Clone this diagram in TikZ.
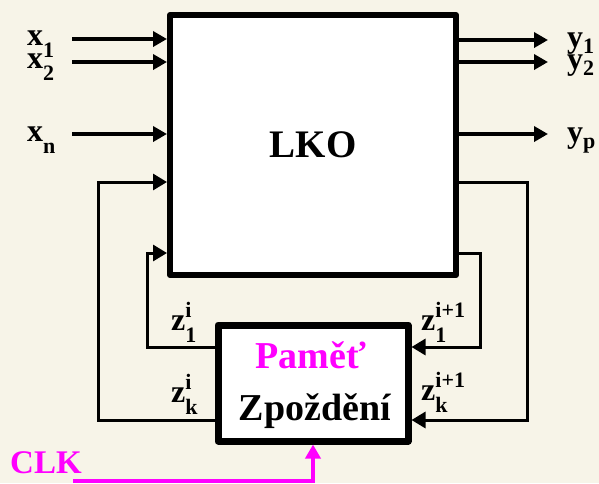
\documentclass[tikz,border=0pt]{standalone}
\usepackage{fontspec}
\setmainfont{Liberation Serif}
\usetikzlibrary{arrows.meta}

\definecolor{pozadi}{HTML}{F7F4E8}
\definecolor{fialova}{HTML}{FF00FF}

\newcommand{\idxfont}{\fontsize{22}{22}\selectfont}
\newcommand{\lbl}[3][12pt]{#2\raisebox{-#1}{\idxfont #3}}
\newcommand{\zsig}[2]{z\rlap{\raisebox{13pt}{\idxfont #2}}\raisebox{-12pt}{\idxfont #1}}

\tikzset{
  blok/.style={draw, line width=6pt, line join=round, fill=white, inner sep=0pt},
  sig/.style={line width=3.5pt, -{Triangle[length=14pt,width=15pt]}},
  zpet/.style={line width=3pt, -{Triangle[length=14pt,width=16pt]}},
  lab/.style={anchor=base west, inner sep=0pt, font=\bfseries\fontsize{32}{32}\selectfont},
  nadpis/.style={anchor=base, inner sep=0pt, font=\bfseries\fontsize{38}{38}\selectfont},
}

\begin{document}
\begin{tikzpicture}[x=1pt,y=-1pt]
  \fill[pozadi] (0,0) rectangle (599,483);

  % kombinacni cast a pamet
  \node[blok, minimum width=286pt, minimum height=260pt] (lko) at (313,145)
    {\bfseries\fontsize{39}{39}\selectfont LKO};
  \node[blok, line width=7pt, minimum width=190pt, minimum height=116pt] (mem) at (313,383) {};
  \node[nadpis, text=fialova] (pam) at (311,368) {Paměť};
  \node[nadpis] (zpo) at (315,420) {Zpoždění};

  % vstupy
  \coordinate (x1in) at (72,39);
  \coordinate (x2in) at (72,62);
  \coordinate (xnin) at (72,134);
  \draw[sig] (x1in) -- (x1in -| lko.west);
  \draw[sig] (x2in) -- (x2in -| lko.west);
  \draw[sig] (xnin) -- (xnin -| lko.west);
  \node[lab] (x1) at (27,45) {\lbl{x}{1}};
  \node[lab] (x2) at (27,68) {\lbl{x}{2}};
  \node[lab] (xn) at (27,141) {\lbl{x}{n}};

  % vystupy
  \coordinate (y1out) at (548,40);
  \coordinate (y2out) at (548,62);
  \coordinate (ypout) at (548,134);
  \draw[sig] (y1out -| lko.east) -- (y1out);
  \draw[sig] (y2out -| lko.east) -- (y2out);
  \draw[sig] (ypout -| lko.east) -- (ypout);
  \node[lab] (y1) at (567,47) {\lbl[6pt]{y}{1}};
  \node[lab] (y2) at (567,69) {\lbl[6pt]{y}{2}};
  \node[lab] (yp) at (567,142) {\lbl[6pt]{y}{p}};

  % zpetne vazby
  \coordinate (r1) at (480,253);
  \coordinate (r2) at (527,182);
  \coordinate (l1) at (147,253);
  \coordinate (l2) at (98,182);
  \coordinate (m1) at (0,347);
  \coordinate (mk) at (0,420);
  \draw[zpet] (lko.east |- r1) -- (r1) |- (mem.east |- m1);
  \draw[zpet] (lko.east |- r2) -- (r2) |- (mem.east |- mk);
  \draw[zpet] (mem.west |- m1) -| (l1) -- (lko.west |- l1);
  \draw[zpet] (mem.west |- mk) -| (l2) -- (lko.west |- l2);
  \node[lab] (z1i) at (171,330) {\zsig{1}{i}};
  \node[lab] (zki) at (171,402) {\zsig{k}{i}};
  \node[lab] (z1n) at (421,330) {\zsig{1}{i+1}};
  \node[lab] (zkn) at (421,400) {\zsig{k}{i+1}};

  % hodiny
  \coordinate (clk0) at (73,481);
  \draw[sig, draw=fialova] (clk0) -| (mem.south);
  \node[lab, text=fialova, font=\bfseries\fontsize{33}{33}\selectfont] (clk) at (10,473) {CLK};
\end{tikzpicture}
\end{document}
